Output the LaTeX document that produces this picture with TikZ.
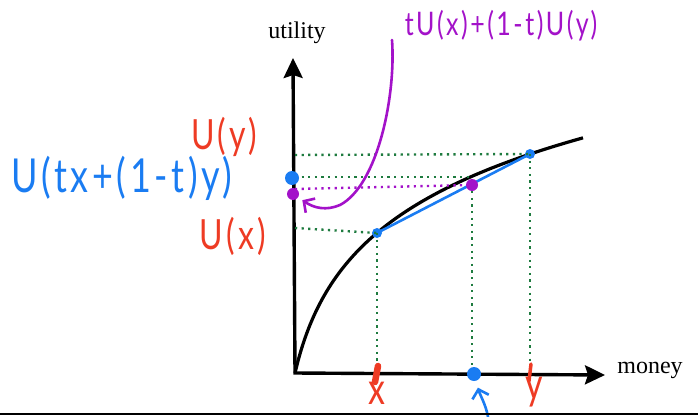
\documentclass[tikz,border=0pt]{standalone}
\usepackage{fontspec}
\setmainfont{Liberation Serif}
\newfontfamily\handfont[LetterSpace=10]{Lato}
\newcommand{\penwrite}[1]{\scalebox{1}[1.3]{#1}}
\usetikzlibrary{arrows.meta}
\definecolor{penred}{HTML}{EE3B24}
\definecolor{penblue}{HTML}{1A7CF2}
\definecolor{penpurple}{HTML}{A312C9}
\definecolor{guidegreen}{HTML}{1E7B3F}

\begin{document}
\begin{tikzpicture}[
  x=1pt, y=-1pt,
  every node/.style={font=\fontsize{24}{26}\selectfont},
  axis/.style={line width=3.4pt, {Stealth[length=20pt,width=19pt,inset=3pt]}-{Stealth[length=20pt,width=19pt,inset=3pt]}},
  guide/.style={draw=guidegreen, line width=2.4pt, dash pattern=on 2.2pt off 4.4pt},
  avgguide/.style={guide, draw=penpurple},
  hand/.style={font=\handfont\fontsize{32}{34}\selectfont, inner sep=0pt},
  dot/.style={circle, inner sep=0pt, minimum size=12pt},
  pointer/.style={line width=2.6pt, line cap=round, shorten >=5pt, -{Straight Barb[length=8pt,width=17pt]}},
  tick/.style={draw=penred, line cap=round}
]
\useasboundingbox (0,0) rectangle (698,417);
% axes
\coordinate (O) at (295,373);
\coordinate (ytip) at (293,58);
\coordinate (xtip) at (605,375);
\draw[axis] (ytip) -- (O) -- (xtip);
\node (ulab) at (297,33) {utility};
\node (mlab) at (650,370) {money};

% concave utility curve
\draw[line width=3.2pt] plot[domain=0:288, samples=100, smooth]
  ({295+\x},{373-86*ln(1+\x/20)});

% points on curve and chord
\coordinate (Px) at (377,233);
\coordinate (Py) at (530,154);
\coordinate (Cm) at (472,177);
\draw[penblue, line width=2.6pt] (Px) -- (Py);
\node[dot, fill=penpurple] (M) at (472,185) {};
\node[dot, fill=penblue, minimum size=10pt] (Pxdot) at (Px) {};
\node[dot, fill=penblue, minimum size=10pt] (Pydot) at (Py) {};

% guide lines
\coordinate (Uyax) at (295,155);
\coordinate (Uxax) at (295,228);
\coordinate (Umax) at (295,177);
\coordinate (Avgax) at (295,189);
\coordinate (Xax) at (377,373);
\coordinate (Yax) at (530,373);
\coordinate (Max) at (472,373);
\draw[guide] (Uyax) -- (Py);
\draw[guide] (Umax) -- (Cm);
\draw[guide] (Uxax) -- (Px);
\draw[avgguide] (Avgax) -- (M);
\draw[guide] (Px) -- (Xax);
\draw[guide] (M) -- (Max);
\draw[guide] (Py) -- (Yax);

% marks on the axes
\node[dot, fill=penblue, minimum size=14pt] (Umdot) at (292,178) {};
\node[dot, fill=penpurple] (Avgdot) at (293,194) {};
\node[dot, fill=penblue, minimum size=14pt] (Mxdot) at (474,374) {};
\draw[tick, line width=6.5pt] (378,366) -- (375,382);
\draw[tick, line width=3.5pt] (531,364) -- (529,381);

% handwritten labels
\node[hand, penred] (Uy) at (224,137) {\penwrite{U(y)}};
\node[hand, penblue, font=\handfont\fontsize{36}{38}\selectfont] (Umid) at (122,178) {\penwrite{U(tx+(1-t)y)}};
\node[hand, penred] (Ux) at (233,236) {\penwrite{U(x)}};
\node[hand, penpurple, font=\handfont\fontsize{25}{27}\selectfont] (Uavg) at (501,26) {\penwrite{tU(x)+(1-t)U(y)}};
\node[hand, penred, font=\handfont\fontsize{34}{36}\selectfont] (xl) at (377,393) {\penwrite{x}};
\node[hand, penred, font=\handfont\fontsize{34}{36}\selectfont] (yl) at (534,392) {\penwrite{y}};

% pointers
\coordinate (pstart) at (392,40);
\coordinate (bstart) at (488,417);
\draw[pointer, penpurple] (pstart) .. controls (396,95) and (378,185) .. (340,205)
  .. controls (326,211) and (314,208) .. (Avgdot);
\draw[pointer, penblue, shorten >=7pt] (bstart) .. controls (486,405) and (480,395) .. (Mxdot);

% bottom rule
\coordinate (rulew) at (0,414);
\coordinate (rulee) at (698,414);
\draw[line width=2.5pt] (rulew) -- (rulee);
\end{tikzpicture}
\end{document}
